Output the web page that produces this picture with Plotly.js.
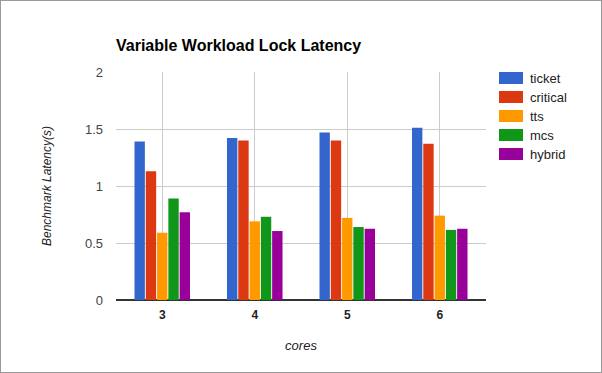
<!DOCTYPE html>
<html>
<head>
<meta charset="utf-8">
<script src="https://cdn.plot.ly/plotly-3.0.1.min.js"></script>
<style>
html,body{margin:0;padding:0;background:#fff;}
#wrap{position:relative;width:602px;height:373px;}
#chart{width:602px;height:373px;}
#frame{position:absolute;left:0;top:0;width:602px;height:373px;box-sizing:border-box;border:1px solid #9a9a9a;pointer-events:none;}
</style>
</head>
<body>
<div id="wrap"><div id="chart"></div><div id="frame"></div></div>
<script>
const cores = ['3', '4', '5', '6'];
const ticket = [1.39, 1.42, 1.47, 1.51];
const critical = [1.13, 1.40, 1.40, 1.37];
const tts = [0.59, 0.69, 0.72, 0.74];
const mcs = [0.89, 0.73, 0.64, 0.615];
const hybrid = [0.77, 0.605, 0.625, 0.625];
const seriesNames = ['ticket', 'critical', 'tts', 'mcs', 'hybrid'];
const seriesColors = ['#3366cc', '#dc3912', '#ff9900', '#109618', '#990099'];
const seriesValues = [ticket, critical, tts, mcs, hybrid];

const traces = seriesNames.map((n, i) => ({
  type: 'bar', name: n, x: cores, y: seriesValues[i],
  marker: {color: seriesColors[i], line: {width: 0}},
  hoverinfo: 'none'
}));

// plot area in pixels
const W = 602, H = 373, L = 116, R = 116, T = 72, B = 73;
const pw = W - L - R, ph = H - T - B;
const px = v => (v - L) / pw;
const py = v => (H - B - v) / ph;

// custom legend (wide swatches as in reference)
const shapes = [], annotations = [];
seriesNames.forEach((n, i) => {
  const cy = 78 + i * 19;
  shapes.push({type: 'rect', xref: 'paper', yref: 'paper',
    x0: px(499), x1: px(523), y0: py(cy + 6), y1: py(cy - 6),
    fillcolor: seriesColors[i], line: {width: 0}});
  annotations.push({xref: 'paper', yref: 'paper', x: px(528), y: py(cy),
    xanchor: 'left', yanchor: 'middle', text: n, showarrow: false,
    font: {size: 13, color: '#222'}});
});

const layout = {
  width: W, height: H,
  margin: {l: L, r: R, t: T, b: B},
  paper_bgcolor: '#fff', plot_bgcolor: '#fff',
  font: {family: 'Liberation Sans, Arial, sans-serif', color: '#222', size: 12},
  barmode: 'group', bargap: 0.39, bargroupgap: 0.08,
  title: {text: 'Variable Workload Lock Latency', x: 116/602, xanchor: 'left', xref: 'container',
          y: 1 - 45/373, yanchor: 'middle', yref: 'container',
          font: {size: 16, weight: 'bold', color: '#000', family: 'Liberation Sans, Arial, sans-serif'}},
  xaxis: {type: 'category', showgrid: true, gridcolor: '#cccccc', gridwidth: 1,
          showline: false, zeroline: false, ticks: '', ticklabelstandoff: 6,
          tickfont: {size: 12, weight: 'bold', color: '#222'},
          title: {text: 'cores', font: {size: 13, style: 'italic', color: '#222'}, standoff: 19}},
  yaxis: {range: [0, 2], tickvals: [0, 0.5, 1, 1.5, 2], ticktext: ['0', '0.5', '1', '1.5', '2'],
          showgrid: true, gridcolor: '#cccccc', gridwidth: 1, zeroline: true, zerolinecolor: '#333',
          zerolinewidth: 1.5, showline: false, ticks: '', ticklabelstandoff: 12,
          tickfont: {size: 13, color: '#444'},
          title: {text: 'Benchmark Latency(s)', font: {size: 12, style: 'italic', color: '#222'}, standoff: 30}},
  shapes: shapes,
  annotations: annotations,
  showlegend: false
};

Plotly.newPlot('chart', traces, layout, {staticPlot: true, displayModeBar: false});
</script>
</body>
</html>
